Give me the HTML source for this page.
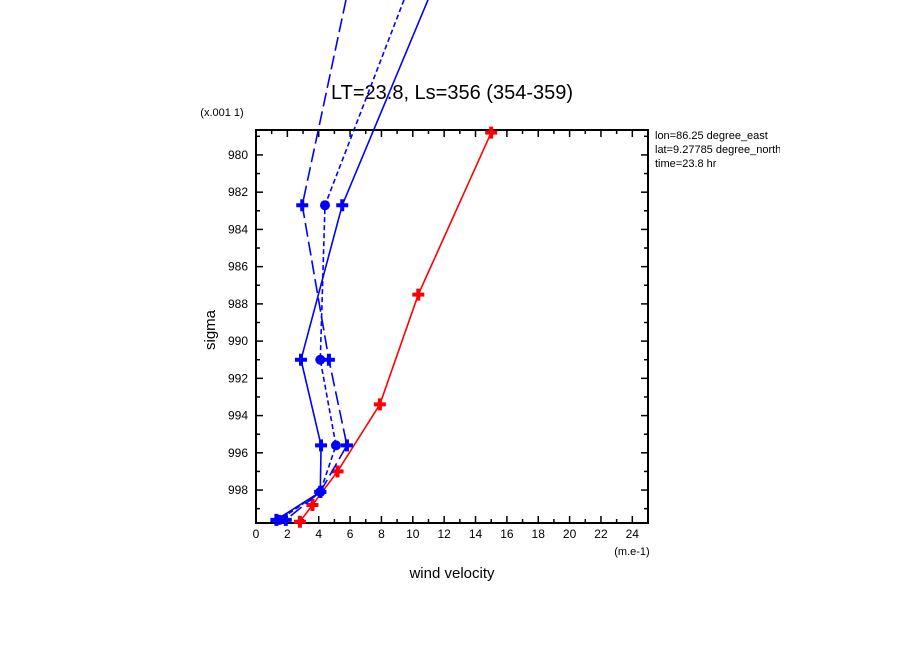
<!DOCTYPE html>
<html><head><meta charset="utf-8"><style>
body{margin:0;background:#fff;width:904px;height:654px;overflow:hidden}
svg{display:block;font-family:"Liberation Sans",sans-serif}
</style></head><body>
<svg id="c" width="904" height="654" viewBox="0 0 904 654">
<defs><clipPath id="rc"><rect x="650" y="120" width="130" height="60"/></clipPath></defs>
<text x="452" y="99" font-size="20" text-anchor="middle">LT=23.8, Ls=356 (354-359)</text>
<text x="222" y="116" font-size="11" text-anchor="middle">(x.001 1)</text>
<g clip-path="url(#rc)" font-size="11">
<text x="655" y="139">lon=86.25 degree_east</text>
<text x="655" y="153">lat=9.27785 degree_north</text>
<text x="655" y="167">time=23.8 hr</text>
</g>
<text x="632" y="555" font-size="11" text-anchor="middle">(m.e-1)</text>
<text x="452" y="578" font-size="15" text-anchor="middle">wind velocity</text>
<text transform="translate(215,330) rotate(-90)" font-size="15" text-anchor="middle">sigma</text>
<g id="axes"></g>
<g id="series"></g>
</svg>
<script>
const xTicks=[0,2,4,6,8,10,12,14,16,18,20,22,24];
const yTicks=[980,982,984,986,988,990,992,994,996,998];
const redX=[15,10.35,7.9,5.2,3.6,2.8];
const redY=[978.8,987.5,993.4,997.0,998.8,999.7];
const solidX=[10.97,5.5,2.87,4.15,4.1,1.3];
const solidY=[971.67,982.7,991.0,995.6,998.1,999.6];
const longX=[5.74,2.95,4.65,5.8,4.1,1.9];
const longY=[971.67,982.7,991.0,995.6,998.1,999.6];
const shortX=[9.44,4.4,4.1,5.1,4.1,1.5];
const shortY=[971.67,982.7,991.0,995.6,998.1,999.6];

const L=256,R=648,T=130,B=523;
const X0=0,X1=25,Y0=978.66,Y1=999.77;
function sx(v){return L+(v-X0)/(X1-X0)*(R-L);}
function sy(v){return T+(v-Y0)/(Y1-Y0)*(B-T);}
const NS="http://www.w3.org/2000/svg";
function mk(tag,at,parent){const e=document.createElementNS(NS,tag);for(const k in at)e.setAttribute(k,at[k]);parent.appendChild(e);return e;}
const ax=document.getElementById('axes'), sg=document.getElementById('series');
const frame=mk('rect',{x:L,y:T,width:R-L,height:B-T,fill:'none',stroke:'#000','stroke-width':2},ax);


for(let v=0;v<=25;v++){
  const x=sx(v),len=v%2===0?7:4;
  mk('line',{x1:x,y1:B,x2:x,y2:B-len,stroke:'#000','stroke-width':1.5},ax);
  mk('line',{x1:x,y1:T,x2:x,y2:T+len,stroke:'#000','stroke-width':1.5},ax);
}
xTicks.forEach(v=>{
  const t=mk('text',{x:sx(v),y:B+15,'font-size':12,'text-anchor':'middle'},ax);t.textContent=v;
  
  
});
for(let v=979;v<=999;v++){
  const y=sy(v),len=v%2===0?7:4;
  mk('line',{x1:L,y1:y,x2:L+len,y2:y,stroke:'#000','stroke-width':1.5},ax);
  mk('line',{x1:R,y1:y,x2:R-len,y2:y,stroke:'#000','stroke-width':1.5},ax);
}
yTicks.forEach(v=>{
  const t=mk('text',{x:L-8,y:sy(v)+4,'font-size':12,'text-anchor':'end'},ax);t.textContent=v;
  
  
});
function series(xs,ys,color,dash,marker,name){
  const g=mk('g',{},sg);
  
  
  const pts=xs.map((x,i)=>sx(x)+','+sy(ys[i])).join(' ');
  const a={points:pts,fill:'none',stroke:color,'stroke-width':1.6};
  if(dash)a['stroke-dasharray']=dash;
  mk('polyline',a,g);
  xs.forEach((x,i)=>{
    const cx=sx(x),cy=sy(ys[i]);
    if(cy<0)return;
    let m;
    if(marker==='cross'){
      m=mk('path',{d:`M${cx-6},${cy}H${cx+6}M${cx},${cy-6}V${cy+6}`,stroke:color,'stroke-width':4},g);
    }else{
      m=mk('circle',{cx:cx,cy:cy,r:5,fill:color},g);
    }
    
    
  });
}
series(redX,redY,'#ff0000',null,'cross','series-red');
series(solidX,solidY,'#0000ff',null,'cross','series-blue-solid');
series(longX,longY,'#0000ff','14,5','cross','series-blue-longdash');
series(shortX,shortY,'#0000ff','5,3','circle','series-blue-shortdash');
</script>
</body></html>
